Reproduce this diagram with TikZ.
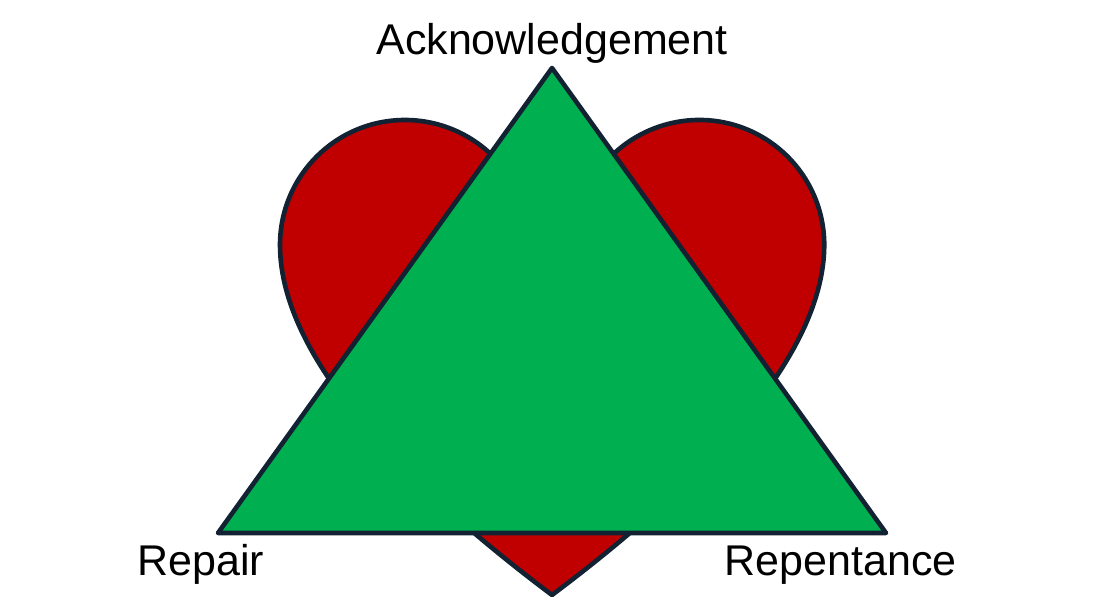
\documentclass[tikz,border=0pt]{standalone}
\usepackage{fontspec}
\setmainfont{Liberation Sans}
\usepackage{tikz}
\usetikzlibrary{positioning}
\definecolor{heartred}{RGB}{192,0,0}
\definecolor{trigreen}{RGB}{0,176,80}
\definecolor{outline}{RGB}{18,34,50}

\begin{document}
\begin{tikzpicture}[x=0.5pt, y=0.5pt]
                \tikzstyle{outlined} = [draw=outline, line width=2.3pt, line join=round]
                \tikzstyle{caption} = [inner sep=0pt, font=\fontsize{21.5}{26}\selectfont]
                \useasboundingbox (0,0) rectangle (1096,614);
                        \begin{scope}
                                % Heart
                                \filldraw[outlined, fill=heartred]
                                (552,19) .. controls (420,118) and (280,250) .. (280,369)
                                arc[start angle=180, end angle=30, radius=125]
                                .. controls (523,414) and (545,405) .. (552,392)
                                .. controls (559,405) and (581,414) .. (591,431.5)
                                arc[start angle=150, end angle=0, radius=125]
                                .. controls (824,250) and (684,118) .. (552,19) -- cycle;

                                % Triangle corners
                                \coordinate (top) at (552,546);
                                \coordinate (left) at (218,81);
                                \coordinate (right) at (886,81);
                                \filldraw[outlined, fill=trigreen] (top) -- (left) -- (right) -- cycle;

                                % Labels
                                \path
                                node[caption, anchor=base] (ack) at (552,559) {Acknowledgement}
                                node[caption, anchor=base west] (rep) at (137,38) {Repair}
                                node[caption, anchor=base east] (repent) at (957,38) {Repentance};
                        \end{scope}
\end{tikzpicture}
\end{document}
